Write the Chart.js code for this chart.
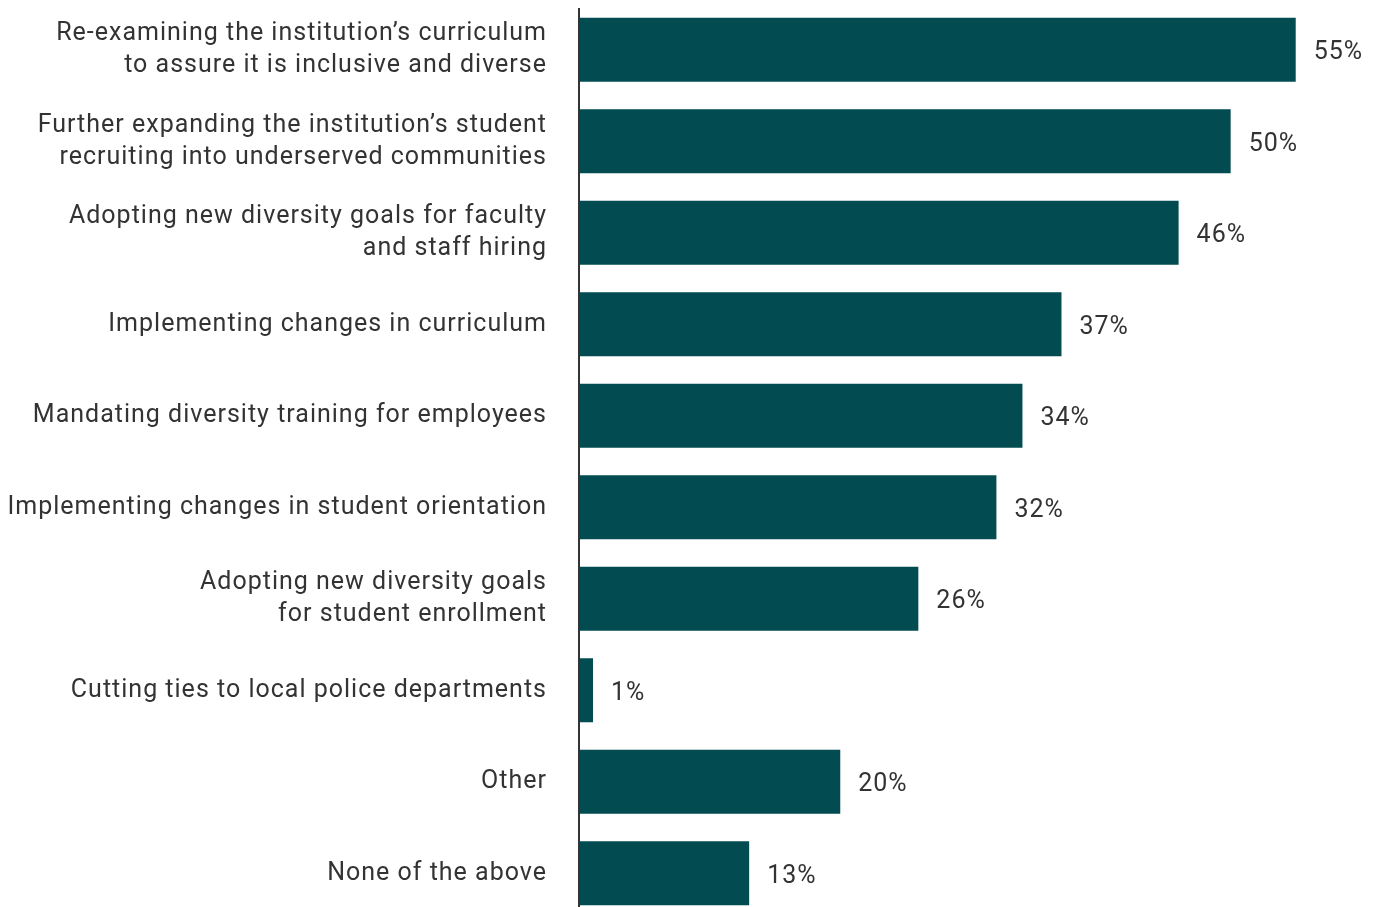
<!DOCTYPE html>
<html>
<head>
<meta charset="utf-8">
<script src="https://cdn.jsdelivr.net/npm/chart.js@4"></script>
<style>
  html, body { margin: 0; padding: 0; background: #fff; overflow: hidden; }
  #wrap { width: 1379px; height: 920px; position: relative; }
</style>
</head>
<body>
<div id="wrap"><canvas id="myChart"></canvas></div>
<script>
const categories = [
    ['Re-examining the institution\u2019s curriculum', 'to assure it is inclusive and diverse'],
    ['Further expanding the institution\u2019s student', 'recruiting into underserved communities'],
    ['Adopting new diversity goals for faculty', 'and staff hiring'],
    'Implementing changes in curriculum',
    'Mandating diversity training for employees',
    'Implementing changes in student orientation',
    ['Adopting new diversity goals', 'for student enrollment'],
    'Cutting ties to local police departments',
    'Other',
    'None of the above'
]
const values = [55, 50, 46, 37, 34, 32, 26, 1, 20, 13]

const ctx = document.getElementById('myChart')

// the reference text is a bit wider than plain Roboto
const spacing = {
    id: 'spacing',
    beforeUpdate(chart) { chart.ctx.letterSpacing = '1px' },
    beforeLayout(chart) { chart.ctx.letterSpacing = '1px' },
    beforeDraw(chart) { chart.ctx.letterSpacing = '1px' }
}

// axis line + value labels
const extras = {
    id: 'extras',
    afterDatasetsDraw(chart) {
        const c = chart.ctx
        const area = chart.chartArea
        const meta = chart.getDatasetMeta(0)
        c.save()
        c.strokeStyle = '#333333'
        c.lineWidth = 2
        c.beginPath()
        c.moveTo(area.left - 1, 8)
        c.lineTo(area.left - 1, chart.height)
        c.stroke()

        c.font = '25px Roboto'
        c.fillStyle = '#333333'
        c.textAlign = 'left'
        c.textBaseline = 'middle'
        meta.data.forEach((bar, i) => {
            c.fillText(values[i] + '%', bar.x + 18, bar.y + 3)
        })
        c.restore()
    }
}

new Chart(ctx, {
    type: 'bar',
    data: {
        labels: categories,
        datasets: [{
            data: values,
            backgroundColor: '#024b50',
            borderWidth: 0,
            barPercentage: 0.7,
            categoryPercentage: 1
        }]
    },
    options: {
        indexAxis: 'y',
        responsive: true,
        maintainAspectRatio: false,
        animation: false,
        layout: { padding: { top: 4, bottom: 1, left: 0, right: 0 } },
        plugins: {
            legend: { display: false },
            tooltip: { enabled: false }
        },
        scales: {
            x: {
                display: false,
                min: 0,
                max: 61.4
            },
            y: {
                afterFit(scale) {
                    scale.width = 580
                    scale.paddingTop = 0
                    scale.paddingBottom = 0
                },
                grid: { display: false, drawTicks: false },
                border: { display: false },
                ticks: {
                    padding: 33,
                    color: '#333333',
                    font: { family: 'Roboto', size: 25, lineHeight: 1.28 }
                }
            }
        }
    },
    plugins: [spacing, extras]
});
</script>
</body>
</html>
